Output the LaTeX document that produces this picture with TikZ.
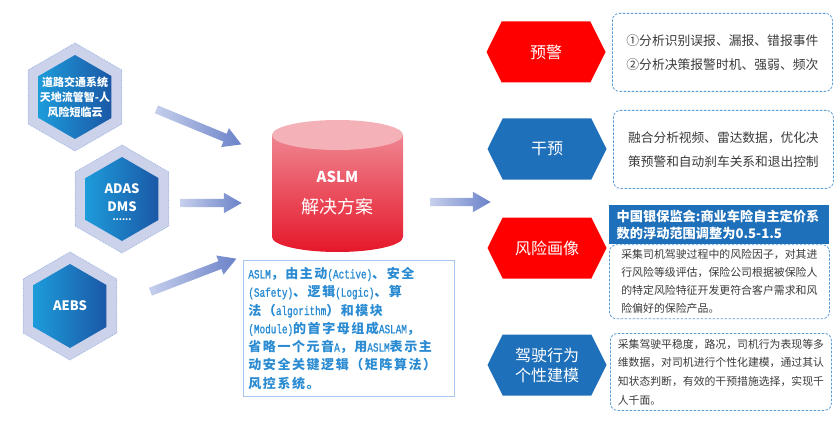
\documentclass[tikz,border=0pt]{standalone}
\usepackage{fontspec}
\setmainfont{Noto Sans CJK SC}
\newfontfamily\latmono[FakeStretch=0.74, FakeBold=1.2]{Liberation Mono}
\newfontfamily\desccjk[LetterSpace=12]{Noto Sans CJK SC}
\usetikzlibrary{shapes.geometric,shapes.arrows,shapes.symbols,calc}

\definecolor{rimfill}{HTML}{CBD2EA}
\definecolor{rimline}{HTML}{9DB3E3}
\definecolor{coreL}{HTML}{1D9BDA}
\definecolor{coreR}{HTML}{1B58A6}
\definecolor{arrlite}{HTML}{C6CFEC}
\definecolor{arrdark}{HTML}{6A82C8}
\definecolor{cylhi}{HTML}{EF8590}
\definecolor{cyllo}{HTML}{E5172A}
\definecolor{cyltop}{HTML}{F4B2B8}
\definecolor{alarmred}{HTML}{FF0000}
\definecolor{titleblue}{HTML}{1F70BA}
\definecolor{dashblue}{HTML}{5B9BD5}
\definecolor{notetext}{HTML}{3A3A3A}
\definecolor{descblue}{HTML}{2A8BD2}
\definecolor{descline}{HTML}{A9C7EE}

% fat gradient arrow between two named points
\newcommand\fatarrow[2]{%
  \path let \p1=($(#2)-(#1)$), \n1={atan2(\y1,\x1)}, \n2={veclen(\x1,\y1)} in
    node[blockarrow, minimum height=\n2, rotate=\n1] at ($(#1)!0.5!(#2)$) {};}
% latin run in the description
\newcommand\lat[1]{{\latmono\mdseries\fontsize{12.6}{18.3}\selectfont#1}}

\begin{document}
\begin{tikzpicture}[x=1pt, y=-1pt,
    hexrim/.style={regular polygon, regular polygon sides=6, shape border rotate=30,
      minimum size=108pt, inner sep=0pt, fill=rimfill, draw=rimline, densely dotted, line width=0.8pt},
    hexcore/.style={regular polygon, regular polygon sides=6, shape border rotate=30,
      minimum size=84pt, inner sep=0pt, left color=coreL, right color=coreR},
    hextext/.style={text=white, align=center, font=\bfseries\fontsize{13}{18}\selectfont},
    blockarrow/.style={single arrow, single arrow head extend=6pt, single arrow tip angle=60,
      inner xsep=0pt, inner ysep=4pt, font=\tiny, left color=arrlite, right color=arrdark},
    sigtitle/.style={signal, signal to=east and west, signal pointer angle=127,
      minimum width=119pt, minimum height=61pt, inner sep=0pt, text=white, align=center,
      font=\fontsize{16}{20}\selectfont},
    notebox/.style={draw=dashblue, dash pattern=on 2.5pt off 1.5pt, line width=0.8pt,
      rounded corners=7pt, anchor=north west, align=left, text=notetext}]
  \useasboundingbox (0,0) rectangle (838,425);

  % input hexagons
  \node[hexrim] (rimA) at (75,97) {};
  \node[hexcore] (hexA) at (75,97) {};
  \node[hextext, font=\bfseries\fontsize{11}{15}\selectfont] (txtA) at (hexA) {道路交通系统\\天地流管智-人\\风险短临云};
  \node[hexrim] (rimB) at (122,199) {};
  \node[hexcore] (hexB) at (122,199) {};
  \node[hextext] (txtB) at (122,198) {ADAS\\DMS};
  \node[hextext, font=\bfseries\fontsize{9}{9}\selectfont] (dotsB) at (122,220) {......};
  \node[hexrim] (rimC) at (70,306) {};
  \node[hexcore] (hexC) at (70,306) {};
  \node[hextext] (txtC) at (hexC) {AEBS};

  % cylinder
  \shade[top color=cylhi, bottom color=cyllo]
    (272,135) -- (272,237) arc[start angle=180, end angle=0, x radius=65.5, y radius=15]
    -- (403,135) -- cycle;
  \fill[cyltop] (337.5,135) ellipse[x radius=65.5, y radius=15];
  \node[text=white, align=center, font=\fontsize{18}{31}\selectfont] (cyl) at (337.5,193)
    {{\bfseries\fontsize{15}{31}\selectfont ASLM}\\解决方案};

  % description
  \node[draw=descline, line width=0.8pt, anchor=north west, text width=201pt, inner xsep=5pt,
    inner ysep=4pt, minimum height=136pt, align=left, text=descblue,
    font=\desccjk\bfseries\fontsize{13}{18.3}\selectfont] (desc) at (243,260)
    {\lat{ASLM}，由主动\lat{(Active)}、安全\\
     \lat{(Safety)}、逻辑\lat{(Logic)}、算\\
     法（\lat{algorithm}）和模块\\
     \lat{(Module)}的首字母组成\lat{ASLAM}，\\
     省略一个元音\lat{A}，用\lat{ASLM}表示主\\
     动安全关键逻辑（矩阵算法）\\
     风控系统。};

  % arrows
  \coordinate (tailA) at (153,108);
  \coordinate (tipA) at (238,143);
  \coordinate (tailB) at (177,203);
  \coordinate (tipB) at (238,203);
  \coordinate (tailC) at (147,293);
  \coordinate (tipC) at (233,260);
  \coordinate (tailD) at (427,202);
  \coordinate (tipD) at (487,202);
  \fatarrow{tailA}{tipA}
  \fatarrow{tailB}{tipB}
  \fatarrow{tailC}{tipC}
  \fatarrow{tailD}{tipD}

  % outputs
  \node[sigtitle, fill=alarmred] (warn) at (546,52) {预警};
  \node[sigtitle, fill=titleblue] (interv) at (547,149) {干预};
  \node[sigtitle, fill=alarmred] (risk) at (547,248) {风险画像};
  \node[sigtitle, fill=titleblue] (drive) at (547,365) {驾驶行为\\个性建模};

  \node[notebox, minimum width=220pt, minimum height=78pt,
    font=\fontsize{12.8}{24}\selectfont] (warnnote) at (612,13)
    {①分析识别误报、漏报、错报事件\\②分析决策报警时机、强弱、频次};
  \node[notebox, minimum width=220pt, minimum height=78pt,
    font=\fontsize{12.7}{24}\selectfont] (intervnote) at (613,110)
    {融合分析视频、雷达数据，优化决\\策预警和自动刹车关系和退出控制};
  \node[fill=titleblue, anchor=north west, minimum width=220pt, minimum height=39pt,
    text width=205pt, align=left, text=white,
    font=\bfseries\fontsize{13.2}{17}\selectfont] (riskhead) at (609,205)
    {中国银保监会:商业车险自主定价系\\数的浮动范围调整为0.5-1.5};
  \node[notebox, minimum width=220pt, minimum height=74pt,
    font=\fontsize{10.9}{18}\selectfont] (risknote) at (riskhead.south west)
    {采集司机驾驶过程中的风险因子，对其进\\行风险等级评估，保险公司根据被保险人\\的特定风险特征开发更符合客户需求和风\\险偏好的保险产品。};
  \node[notebox, minimum width=221pt, minimum height=77pt,
    font=\fontsize{10.85}{18.7}\selectfont] (drivenote) at (610,333)
    {采集驾驶平稳度，路况，司机行为表现等多\\维数据，对司机进行个性化建模，通过其认\\知状态判断，有效的干预措施选择，实现千\\人千面。};
\end{tikzpicture}
\end{document}
